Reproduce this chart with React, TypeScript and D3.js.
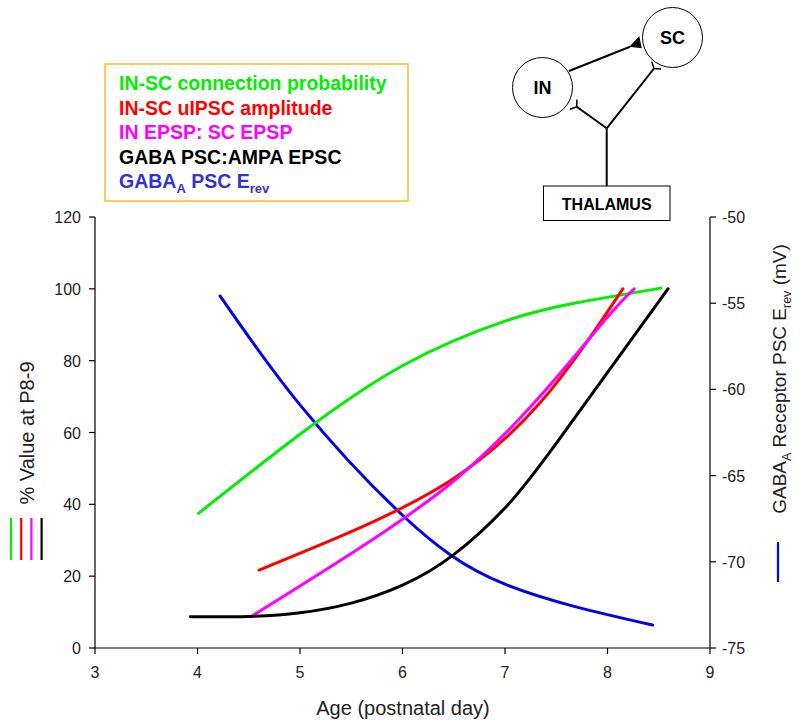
import React from "react";
import * as d3 from "d3";

const xTicks = [3, 4, 5, 6, 7, 8, 9];
const yLeftTicks = [0, 20, 40, 60, 80, 100, 120];
const yRightTicks = [-75, -70, -65, -60, -55, -50];

const greenData: [number, number][] = [
  [4.01, 37.5], [5.0, 59.5], [6.0, 78.6], [7.0, 91.0], [7.7, 96.1], [8.52, 100.2],
];
const redData: [number, number][] = [
  [4.6, 21.7], [5.5, 32.4], [6.45, 46.3], [7.34, 68.2], [8.15, 100],
];
const magentaData: [number, number][] = [
  [4.52, 8.7], [5.5, 26.3], [6.5, 46.5],
  [7.34, 70], [7.99, 91.8], [8.26, 100],
];
const blackData: [number, number][] = [
  [3.93, 8.7], [4.5, 8.8], [5.0, 9.8], [5.5, 12.5], [6.0, 17.5],
  [6.5, 26], [7.0, 39], [7.5, 57], [8.59, 100],
];
const blueData: [number, number][] = [
  [4.22, -54.58], [5.0, -60.9], [6.0, -67.3], [7.0, -71.3], [8.44, -73.67],
];

const GREEN = "#00ee00";
const RED = "#ff0000";
const MAGENTA = "#ff00ff";
const BLACK = "#000000";
const BLUE = "#0000ee";
const FONT = "'Liberation Sans', Arial, sans-serif";

export default function App() {
  const x = d3.scaleLinear().domain([3, 9]).range([95, 710]);
  const yL = d3.scaleLinear().domain([0, 120]).range([648, 217]);
  const yR = d3.scaleLinear().domain([-75, -50]).range([648, 217]);

  const lineL = d3
    .line<[number, number]>()
    .x((d) => x(d[0]))
    .y((d) => yL(d[1]))
    .curve(d3.curveNatural);
  const lineR = d3
    .line<[number, number]>()
    .x((d) => x(d[0]))
    .y((d) => yR(d[1]))
    .curve(d3.curveNatural);

  const series = [
    { data: greenData, color: GREEN },
    { data: redData, color: RED },
    { data: magentaData, color: MAGENTA },
    { data: blackData, color: BLACK },
  ];

  // synapse fork helper
  const fork = (fx: number, fy: number, tx: number, ty: number) => {
    const dx = tx - fx;
    const dy = ty - fy;
    const len = Math.hypot(dx, dy);
    const ux = dx / len;
    const uy = dy / len;
    const px = -uy;
    const py = ux;
    const s = 6;
    return `M${tx},${ty}L${tx + px * s + ux * 4},${ty + py * s + uy * 4}M${tx},${ty}L${tx - px * s + ux * 4},${ty - py * s + uy * 4}`;
  };

  return (
    <svg width={800} height={727} style={{ display: "block", position: "absolute", left: 0, top: 0 }} fontFamily={FONT}>
      <rect width={800} height={727} fill="#fff" />

      {/* Legend box */}
      <rect x={105} y={64} width={303} height={137} fill="none" stroke="#f5c02c" strokeWidth={1.5} />
      <g fontSize={19.5} fontWeight="bold">
        <text x={119} y={90} fill={GREEN}>IN-SC connection probability</text>
        <text x={119} y={114.5} fill={RED}>IN-SC uIPSC amplitude</text>
        <text x={119} y={139} fill={MAGENTA}>IN EPSP: SC EPSP</text>
        <text x={119} y={163.5} fill={BLACK}>GABA PSC:AMPA EPSC</text>
        <text x={119} y={188} fill="#3333cc">
          GABA<tspan fontSize={13} dy={5}>A</tspan>
          <tspan dy={-5}> PSC E</tspan>
          <tspan fontSize={13} dy={5}>rev</tspan>
        </text>
      </g>

      {/* Diagram */}
      <g stroke="#000" fill="none" strokeWidth={2}>
        <circle cx={672.5} cy={37.5} r={30} strokeWidth={1} fill="#fff" />
        <circle cx={542.5} cy={87.5} r={30} strokeWidth={1} fill="#fff" />
        <line x1={569} y1={71} x2={630} y2={46.7} />
        <path d="M629.3,46.7 L639.3,36 L641.7,48.3 Z" fill="#000" stroke="none" />
        <rect x={543.5} y={186} width={126.5} height={34.5} strokeWidth={1} />
        <line x1={606.7} y1={186} x2={606.7} y2={128.3} />
        <line x1={606.7} y1={128.3} x2={654} y2={68.5} />
        <line x1={606.7} y1={128.3} x2={576.7} y2={106.7} />
        <path d={fork(606.7, 128.3, 654, 68.5)} strokeWidth={1.5} />
        <path d={fork(606.7, 128.3, 576.7, 106.7)} strokeWidth={1.5} />
      </g>
      <g fontWeight="bold" fontSize={18} textAnchor="middle" fill="#000">
        <text x={672.5} y={44}>SC</text>
        <text x={542.5} y={94}>IN</text>
        <text x={606.7} y={210} fontSize={16}>THALAMUS</text>
      </g>

      {/* Axes */}
      <g stroke="#000" strokeWidth={1.2} fill="none">
        <line x1={95} y1={648} x2={710} y2={648} />
        <line x1={95} y1={217} x2={95} y2={648} />
        <line x1={710} y1={217} x2={710} y2={648} />
        {xTicks.map((t) => (
          <line key={"xt" + t} x1={x(t)} x2={x(t)} y1={648} y2={654} />
        ))}
        {yLeftTicks.map((t) => (
          <line key={"yl" + t} x1={89} x2={95} y1={yL(t)} y2={yL(t)} />
        ))}
        {yRightTicks.map((t) => (
          <line key={"yr" + t} x1={710} x2={716} y1={yR(t)} y2={yR(t)} />
        ))}
      </g>
      <g fontSize={16} fill="#222">
        {xTicks.map((t) => (
          <text key={"xl" + t} x={x(t)} y={678} textAnchor="middle">{t}</text>
        ))}
        {yLeftTicks.map((t) => (
          <text key={"yll" + t} x={81} y={yL(t) + 6} textAnchor="end">{t}</text>
        ))}
        {yRightTicks.map((t) => (
          <text key={"yrl" + t} x={722} y={yR(t) + 6} textAnchor="start">{t}</text>
        ))}
      </g>

      {/* Axis titles */}
      <text x={403} y={715} fontSize={20} textAnchor="middle" fill="#222">Age (postnatal day)</text>
      <text transform="translate(33.5,433) rotate(-90)" fontSize={20} textAnchor="middle" fill="#222">% Value at P8-9</text>
      {[GREEN, RED, MAGENTA, BLACK].map((c, i) => (
        <line key={"ll" + i} x1={11 + i * 10.2} x2={11 + i * 10.2} y1={518} y2={560} stroke={c} strokeWidth={2.2} />
      ))}
      <text transform="translate(786,379) rotate(-90)" fontSize={19} textAnchor="middle" fill="#222">
        GABA<tspan fontSize={12.5} dy={5}>A</tspan>
        <tspan dy={-5}> Receptor PSC E</tspan>
        <tspan fontSize={12.5} dy={5}>rev</tspan>
        <tspan dy={-5}> (mV)</tspan>
      </text>
      <line x1={778} x2={778} y1={542} y2={582} stroke={BLUE} strokeWidth={2.2} />

      {/* Curves */}
      <g fill="none" strokeWidth={3} strokeLinecap="round">
        <path d={lineR(blueData) || ""} stroke={BLUE} />
        {series.map((s, i) => (
          <path key={"s" + i} d={lineL(s.data) || ""} stroke={s.color} />
        ))}
      </g>
    </svg>
  );
}
